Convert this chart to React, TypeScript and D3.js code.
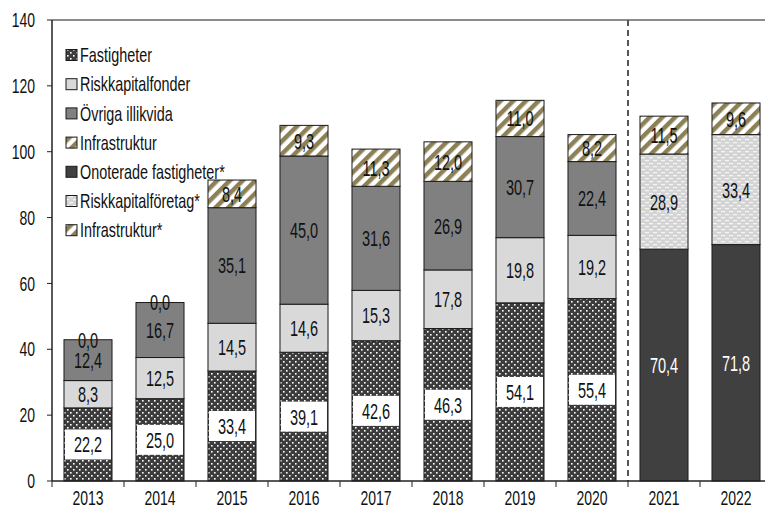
import React from "react";
import * as d3 from "d3";

const years = ["2013", "2014", "2015", "2016", "2017", "2018", "2019", "2020", "2021", "2022"];
const fastigheter = [22.2, 25.0, 33.4, 39.1, 42.6, 46.3, 54.1, 55.4, null, null];
const riskkapitalfonder = [8.3, 12.5, 14.5, 14.6, 15.3, 17.8, 19.8, 19.2, null, null];
const ovrigaIllikvida = [12.4, 16.7, 35.1, 45.0, 31.6, 26.9, 30.7, 22.4, null, null];
const infrastruktur = [0.0, 0.0, 8.4, 9.3, 11.3, 12.0, 11.0, 8.2, null, null];
const onoteradeFastigheter = [null, null, null, null, null, null, null, null, 70.4, 71.8];
const riskkapitalforetag = [null, null, null, null, null, null, null, null, 28.9, 33.4];
const infrastrukturStar = [null, null, null, null, null, null, null, null, 11.5, 9.6];
const yTicks = [0, 20, 40, 60, 80, 100, 120, 140];

const seriesDefs = [
  { name: "Fastigheter", values: fastigheter, fill: "url(#dots)", box: true, text: "#111" },
  { name: "Riskkapitalfonder", values: riskkapitalfonder, fill: "#d9d9d9", box: false, text: "#111" },
  { name: "Övriga illikvida", values: ovrigaIllikvida, fill: "#808080", box: false, text: "#111" },
  { name: "Infrastruktur", values: infrastruktur, fill: "url(#stripes)", box: false, text: "#111" },
  { name: "Onoterade fastigheter*", values: onoteradeFastigheter, fill: "#404040", box: false, text: "#fff" },
  { name: "Riskkapitalföretag*", values: riskkapitalforetag, fill: "url(#dashes)", box: false, text: "#111" },
  { name: "Infrastruktur*", values: infrastrukturStar, fill: "url(#stripes)", box: false, text: "#111" },
];

const W = 765, H = 509;
const FONT = "'Liberation Sans', Arial, sans-serif";

function NText(props: { x: number; y: number; size: number; sx?: number; anchor?: string; fill?: string; children: any }) {
  const { x, y, size, sx = 0.7, anchor = "start", fill = "#111", children } = props;
  return (
    <g transform={`translate(${x},${y}) scale(${sx},1)`}>
      <text x={0} y={0} dy="0.36em" textAnchor={anchor as any} fontSize={size} fill={fill}>{children}</text>
    </g>
  );
}

export default function App() {
  const x0 = 52, y0 = 481, yTop = 20;
  const step = 72;
  const x = d3.scaleBand<string>().domain(years).range([x0, x0 + step * years.length]).paddingInner(0.333).paddingOuter(0.1665);
  const y = d3.scaleLinear().domain([0, 140]).range([y0, yTop]);
  const fmt = (v: number) => v.toFixed(1).replace(".", ",");

  const bars: any[] = [];
  years.forEach((yr, i) => {
    let acc = 0;
    seriesDefs.forEach((s, si) => {
      const v = s.values[i];
      if (v === null || v === undefined) return;
      const b0 = acc, b1 = acc + v;
      acc = b1;
      bars.push({ yr, si, s, v, b0, b1 });
    });
  });

  const bw = x.bandwidth();

  return (
    <svg width={W} height={H} style={{ position: "absolute", left: 0, top: 0, background: "#fff" }} fontFamily={FONT}>
      <defs>
        <pattern id="dots" width="6" height="6" patternUnits="userSpaceOnUse">
          <rect width="6" height="6" fill="#3c3c3c" />
          <rect x="1" y="1" width="1.6" height="1.6" fill="#fff" />
          <rect x="4" y="4" width="1.6" height="1.6" fill="#fff" />
        </pattern>
        <pattern id="stripes" width="9" height="9" patternUnits="userSpaceOnUse" patternTransform="rotate(45)">
          <rect width="9" height="9" fill="#fff" />
          <rect width="4.5" height="9" fill="#8c8056" />
        </pattern>
        <pattern id="dashes" width="8" height="6" patternUnits="userSpaceOnUse">
          <rect width="8" height="6" fill="#d4d4d4" />
          <rect x="1" y="1" width="4" height="1.3" fill="#f4f4f4" />
          <rect x="5" y="4" width="4" height="1.3" fill="#f4f4f4" />
          <rect x="-3" y="4" width="4" height="1.3" fill="#f4f4f4" />
        </pattern>
      </defs>

      {/* top border */}
      <line x1={x0} x2={W} y1={yTop} y2={yTop} stroke="#666" strokeWidth={1.5} />

      {/* bars */}
      {bars.map((b, k) => (
        <rect key={k} x={x(b.yr)} y={y(b.b1)} width={bw} height={y(b.b0) - y(b.b1)} fill={b.s.fill} stroke="#1a1a1a" strokeWidth={1} />
      ))}

      {/* dashed divider */}
      <line x1={x0 + step * 8} x2={x0 + step * 8} y1={yTop} y2={y0} stroke="#555" strokeWidth={2} strokeDasharray="6,4" />

      {/* value labels */}
      {bars.map((b, k) => {
        const cx = (x(b.yr) as number) + bw / 2;
        const cy = (y(b.b0) + y(b.b1)) / 2;
        return (
          <g key={"l" + k}>
            {b.s.box && <rect x={cx - 23} y={cy - 15} width={46} height={30} fill="#fff" />}
            <NText x={cx} y={cy} size={22} sx={0.66} anchor="middle" fill={b.s.text}>{fmt(b.v)}</NText>
          </g>
        );
      })}

      {/* axes */}
      <line x1={x0} x2={x0} y1={yTop} y2={y0} stroke="#222" strokeWidth={1.5} />
      <line x1={x0} x2={W} y1={y0} y2={y0} stroke="#222" strokeWidth={1.5} />
      {yTicks.map((t) => (
        <g key={t}>
          <line x1={x0 - 5} x2={x0} y1={y(t)} y2={y(t)} stroke="#222" strokeWidth={1} />
          <NText x={x0 - 17} y={y(t)} size={20} anchor="end">{t}</NText>
        </g>
      ))}
      {years.map((yr, i) => (
        <g key={yr}>
          <line x1={x0 + step * i} x2={x0 + step * i} y1={y0} y2={y0 + 6} stroke="#222" strokeWidth={1} />
          <NText x={(x(yr) as number) + bw / 2} y={y0 + 17} size={20} anchor="middle">{yr}</NText>
        </g>
      ))}

      {/* legend */}
      {seriesDefs.map((s, i) => {
        const ly = 55 + i * 29.2;
        return (
          <g key={s.name}>
            <rect x={66} y={ly - 5.5} width={11} height={11} fill={s.fill} stroke="#1a1a1a" strokeWidth={1} />
            <NText x={80} y={ly} size={20} sx={0.72}>{s.name}</NText>
          </g>
        );
      })}
    </svg>
  );
}
